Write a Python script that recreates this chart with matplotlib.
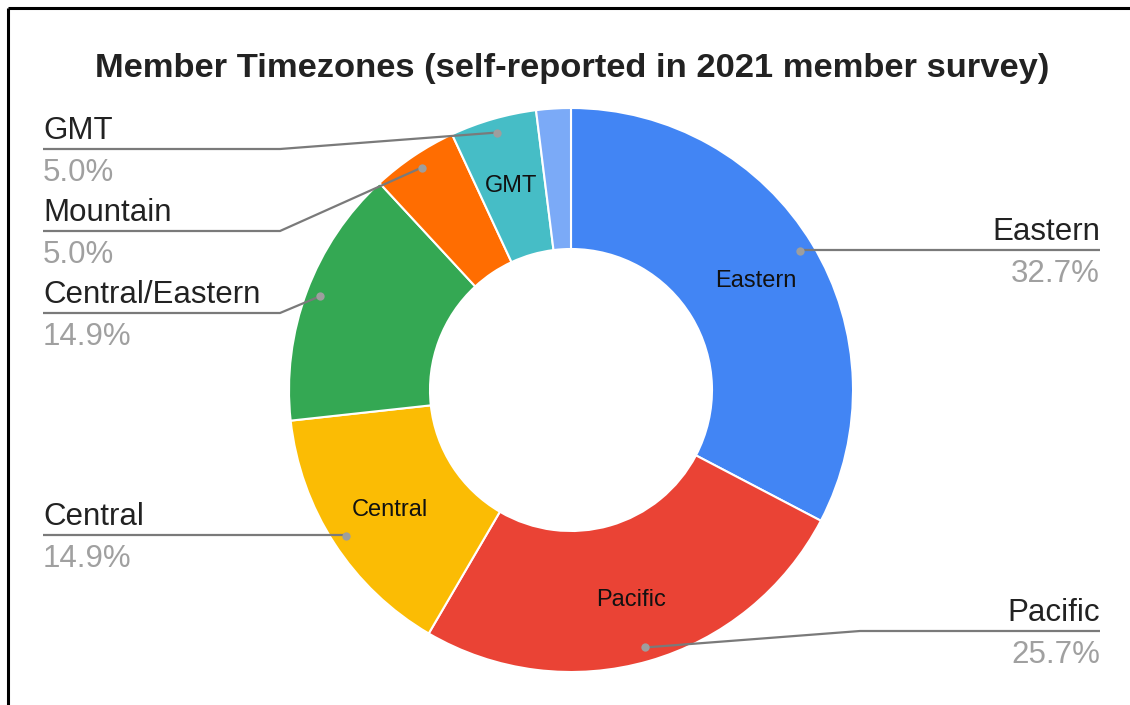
import numpy as np
import matplotlib
matplotlib.use("Agg")
import matplotlib.pyplot as plt

# ── Data (2021 member survey, counts out of 101) ─────────────────────────────
zones   = ["Eastern", "Pacific", "Central", "Central/Eastern", "Mountain", "GMT", "Other"]
counts  = [33, 26, 15, 15, 5, 5, 2]
pct_txt = ["32.7%", "25.7%", "14.9%", "14.9%", "5.0%", "5.0%", ""]
colors  = ["#4285F4", "#EA4335", "#FBBC04", "#34A853", "#FF6D01", "#46BDC6", "#7BAAF7"]
inside  = ["Eastern", "Pacific", "Central", "GMT"]

# label layout: (side, line y in px from top, elbow x) -- None for no elbow
callouts = {
    "Eastern":         ("right", 250, None),
    "Pacific":         ("right", 631, 860),
    "Central":         ("left",  535, None),
    "Central/Eastern": ("left",  313, 280),
    "Mountain":        ("left",  231, 280),
    "GMT":             ("left",  149, 280),
}

plt.rcParams["font.family"] = ["Liberation Sans", "DejaVu Sans"]

W, H = 1130, 705
fig = plt.figure(figsize=(W / 100, H / 100), dpi=100)
ax = fig.add_axes([0, 0, 1, 1])

def py(y):  # pixel row -> data y
    return H - y

cx, cy, R = 571, py(390), 282
wedges, _ = ax.pie(counts, colors=colors, startangle=90, counterclock=False,
                   center=(cx, cy), radius=R, frame=True,
                   wedgeprops=dict(width=R * 0.5, edgecolor="white", linewidth=1.5))
ax.set_xlim(0, W)
ax.set_ylim(0, H)
ax.axis("off")

for w, name, pct in zip(wedges, zones, pct_txt):
    mid = np.deg2rad((w.theta1 + w.theta2) / 2)
    # label inside ring
    if name in inside:
        rm = R * 0.765
        ax.text(cx + rm * np.cos(mid), cy + rm * np.sin(mid) - 3, name,
                ha="center", va="center", fontsize=17, color="#111111")
    if name not in callouts:
        continue
    side, ly, elbow = callouts[name]
    dx, dy = cx + R * 0.95 * np.cos(mid), cy + R * 0.95 * np.sin(mid)
    end = 1100 if side == "right" else 43
    if elbow is None:
        xs, ys = [dx, end], [py(ly), py(ly)]
    else:
        xs, ys = [dx, elbow, end], [dy, py(ly), py(ly)]
    ax.plot(xs, ys, color="#7a7a7a", lw=1.6, solid_capstyle="butt", zorder=5)
    ax.plot(dx, dy, "o", ms=6, color="#9e9e9e", mec="none", zorder=6)
    ha = "right" if side == "right" else "left"
    ax.text(end, py(ly) + 3, name, ha=ha, va="bottom", fontsize=22.5, color="#222222")
    ax.text(end, py(ly) - 9, pct, ha=ha, va="top", fontsize=22.5, color="#a0a0a0")

ax.text(572, py(68), "Member Timezones (self-reported in 2021 member survey)",
        ha="center", va="center", fontsize=24.8, fontweight="bold", color="#222222")

# frame edges
ax.plot([8, 8], [0, py(8)], color="black", lw=2.2, solid_capstyle="butt")
ax.plot([8, W], [py(8), py(8)], color="black", lw=2.2, solid_capstyle="butt")

fig.savefig("out.png", dpi=100, facecolor="white")
